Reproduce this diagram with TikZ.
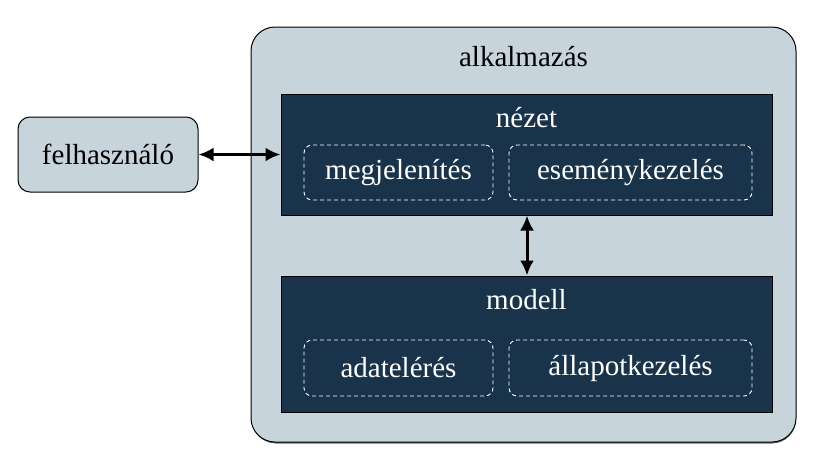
\documentclass[tikz,border=0pt]{standalone}
\usepackage{fontspec}
\setmainfont{Liberation Serif}
\usetikzlibrary{arrows.meta}
\definecolor{lightbg}{HTML}{C8D4DC}
\definecolor{darkbg}{HTML}{19344A}
\tikzset{
  outerbox/.style={draw=black, fill=lightbg, line width=1pt, rounded corners=24pt, inner sep=0pt},
  userbox/.style={draw=black, fill=lightbg, line width=1pt, rounded corners=12pt, inner sep=0pt, font=\fontsize{29}{33}\selectfont},
  layerbox/.style={draw=black, fill=darkbg, line width=1pt, inner sep=0pt},
  partbox/.style={draw=white, dashed, dash pattern=on 4pt off 3pt, line width=0.9pt, rounded corners=8pt, inner sep=0pt, text=white, font=\fontsize{29}{33}\selectfont},
  titletext/.style={inner sep=0pt, font=\fontsize{29}{33}\selectfont},
  biarrow/.style={{Latex[length=15pt,width=14pt]}-{Latex[length=15pt,width=14pt]}, line width=3pt, draw=black},
}
\begin{document}
\begin{tikzpicture}[x=1pt,y=-1pt]
\useasboundingbox (0,0) rectangle (821,469);
% outer with slight shadow at the bottom
\fill[black!60, rounded corners=24pt] (252,40) -- (252,443.5) -- (796,443.5) -- (796,40) -- cycle;
\node[outerbox, minimum width=545pt, minimum height=415pt] (app) at (523.5,234.5) {};
\node[titletext] (apptitle) at (523.5,57) {alkalmazás};
% user
\node[userbox, minimum width=180pt, minimum height=75pt] (user) at (108,154.5) {felhasználó};
% view
\node[layerbox, minimum width=491pt, minimum height=121pt] (view) at (526.5,154.5) {};
\node[titletext, text=white] (viewtitle) at (526.5,118) {nézet};
\node[partbox, minimum width=189pt, minimum height=55pt] (render) at (398.5,172.5) {megjelenítés};
\node[partbox, minimum width=243pt, minimum height=55pt] (events) at (630.5,172.5) {eseménykezelés};
% model
\node[layerbox, minimum width=491pt, minimum height=136pt] (model) at (526.5,344) {};
\node[titletext, text=white] (modeltitle) at (526.5,300) {modell};
\node[partbox, minimum width=189pt, minimum height=56pt] (data) at (398.5,368) {adatelérés};
\node[partbox, minimum width=243pt, minimum height=56pt] (state) at (630.5,368) {állapotkezelés};
% arrows
\draw[biarrow] (user.east) -- (view.west |- user.east);
\draw[biarrow] (view.south -| 527,0) -- (model.north -| 527,0);
\end{tikzpicture}
\end{document}
